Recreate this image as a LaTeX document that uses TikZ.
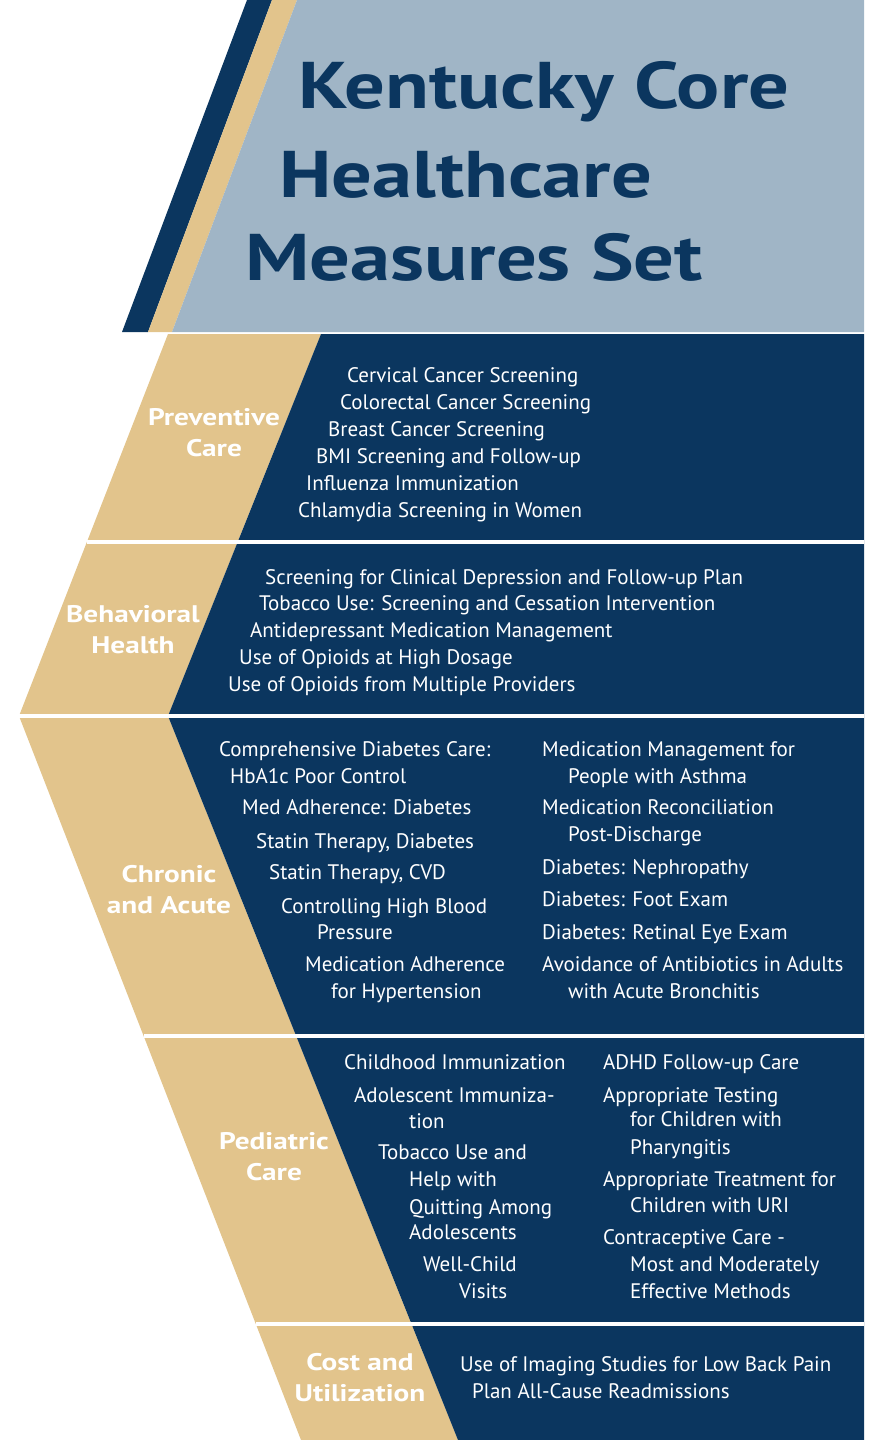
\documentclass[tikz,border=0pt]{standalone}
\usepackage{fontspec}
\setmainfont{PT Sans}
\newfontfamily\widefont[FakeStretch=1.22]{PT Sans}
\definecolor{kynavy}{RGB}{11,54,95}
\definecolor{kytan}{RGB}{226,196,140}
\definecolor{kysky}{RGB}{160,181,198}

\begin{document}
\begin{tikzpicture}[x=1pt, y=-1pt,
  item/.style={anchor=west, inner sep=0pt, text height=15pt, text depth=2pt, text=white, font=\fontsize{21}{25}\selectfont},
  group/.style={align=center, inner sep=0pt, text=white, font=\widefont\bfseries\fontsize{24}{31}\selectfont},
  headline/.style={anchor=base west, inner sep=0pt, text=kynavy, font=\widefont\bfseries\fontsize{66}{80}\selectfont}]
\useasboundingbox (0,0) rectangle (874,1440);

% title block
\fill[kynavy] (247,0) -- (272,0) -- (148,332) -- (122,332) -- cycle;
\fill[kytan] (272,0) -- (297,0) -- (172,332) -- (148,332) -- cycle;
\fill[kysky] (297,0) -- (864,0) -- (864,332) -- (172,332) -- cycle;
\node[headline] (title1) at (298,108) {Kentucky Core};
\node[headline] (title2) at (279,197) {Healthcare};
\node[headline] (title3) at (245,280) {Measures Set};

% chevron bands
\fill[kytan] (168,334) -- (321,334) -- (168,716) -- (458,1440) -- (301,1440) -- (19,716) -- cycle;
\fill[kynavy] (321,334) -- (864,334) -- (864,1440) -- (458,1440) -- (168,716) -- cycle;
\foreach \yy/\xx in {542/87, 716/19, 1036/144, 1324/256}{
\draw[white, line width=4] (\xx,\yy) -- (864,\yy);
}

% group names
\node[group] (prevgroup) at (214,433) {Preventive\\Care};
\node[group] (behgroup) at (133,630) {Behavioral\\Health};
\node[group] (chrgroup) at (169,890) {Chronic\\and Acute};
\node[group] (pedgroup) at (274,1157) {Pediatric\\Care};
\node[group] (costgroup) at (360,1378) {Cost and\\Utilization};

% measures
\foreach \txt/\xx/\yy [count=\i] in {{Cervical Cancer Screening}/347/376, {Colorectal Cancer Screening}/340/403,
  {Breast Cancer Screening}/328/430, {BMI Screening and Follow-up}/316/457,
  {Influenza Immunization}/306/484, {Chlamydia Screening in Women}/298/511}{
\node[item] (prev\i) at (\xx,\yy) {\txt};
}
\foreach \txt/\xx/\yy [count=\i] in {{Screening for Clinical Depression and Follow-up Plan}/265/578,
  {Tobacco Use: Screening and Cessation Intervention}/259/604, {Antidepressant Medication Management}/250/631,
  {Use of Opioids at High Dosage}/239/658, {Use of Opioids from Multiple Providers}/228/685}{
\node[item] (beh\i) at (\xx,\yy) {\txt};
}
\foreach \txt/\xx/\yy [count=\i] in {{Comprehensive Diabetes Care:}/219/750, {HbA1c Poor Control}/230/777,
  {Med Adherence: Diabetes}/242/808, {Statin Therapy, Diabetes}/256/842, {Statin Therapy, CVD}/269/873,
  {Controlling High Blood}/281/907, {Pressure}/317/933, {Medication Adherence}/305/965,
  {for Hypertension}/331/992}{
\node[item] (chrl\i) at (\xx,\yy) {\txt};
}
\foreach \txt/\xx/\yy [count=\i] in {{Medication Management for}/542/750, {People with Asthma}/568/777,
  {Medication Reconciliation}/542/808, {Post-Discharge}/568/835, {Diabetes: Nephropathy}/542/868,
  {Diabetes: Foot Exam}/542/900, {Diabetes: Retinal Eye Exam}/542/933,
  {Avoidance of Antibiotics in Adults}/542/965, {with Acute Bronchitis}/568/992}{
\node[item] (chrr\i) at (\xx,\yy) {\txt};
}
\foreach \txt/\xx/\yy [count=\i] in {{Childhood Immunization}/344/1063, {Adolescent Immuniza-}/354/1096,
  {tion}/409/1122, {Tobacco Use and}/378/1153, {Help with}/409/1180, {Quitting Among}/409/1208,
  {Adolescents}/409/1233, {Well-Child}/423/1265, {Visits}/459/1292}{
\node[item] (pedl\i) at (\xx,\yy) {\txt};
}
\foreach \txt/\xx/\yy [count=\i] in {{ADHD Follow-up Care}/603/1063, {Appropriate Testing}/603/1096,
  {for Children with}/630/1120, {Pharyngitis}/630/1148, {Appropriate Treatment for}/603/1180,
  {Children with URI}/630/1206, {Contraceptive Care -}/603/1238, {Most and Moderately}/630/1265,
  {Effective Methods}/630/1292}{
\node[item] (pedr\i) at (\xx,\yy) {\txt};
}
\node[item] (cost1) at (460,1365) {Use of Imaging Studies for Low Back Pain};
\node[item] (cost2) at (472,1392) {Plan All-Cause Readmissions};

\end{tikzpicture}
\end{document}
